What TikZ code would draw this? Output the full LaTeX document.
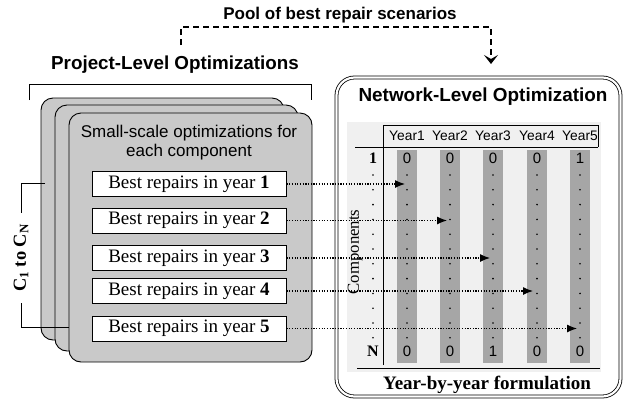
\documentclass[tikz,border=0pt]{standalone}
\usepackage{fontspec}
\setmainfont{Liberation Serif}
\setsansfont{Liberation Sans}
\usetikzlibrary{arrows.meta}

\begin{document}
\begin{tikzpicture}[x=1pt,y=-1pt,
    heading/.style={font=\sffamily\bfseries\fontsize{18.8}{21}\selectfont},
    stackbox/.style={draw,line width=0.9pt,fill=black!21,rounded corners=12pt},
    yearbox/.style={draw,line width=0.9pt,fill=white,minimum width=194pt,minimum height=25pt,inner sep=0pt,font=\fontsize{19}{21}\selectfont},
    dotarrow/.style={line width=1.2pt,dash pattern=on 1.2pt off 1.5pt,-{Latex[length=10pt,width=8pt]}},
    cell/.style={font=\sffamily\fontsize{15}{17}\selectfont},
  ]
    \useasboundingbox (0,0) rectangle (624,405);

    % pool of scenarios, from project level to network level
    \node[heading,font=\sffamily\bfseries\fontsize{17}{19}\selectfont] (pool) at (340,15) {Pool of best repair scenarios};
    \coordinate (p1) at (181,45);
    \coordinate (p2) at (491,64);
    \draw[line width=1.2pt,dash pattern=on 6pt off 4pt,-{Stealth[length=9pt,width=14pt,inset=4pt]}] (p1) -- ++(0,-18) -| (p2);

    % project level
    \node[heading] (plo) at (175,65) {Project-Level Optimizations};
    \draw[line width=1pt] (29,100) |- (311,84) -- (311,100);

    \draw[stackbox] (41,98) rectangle (284,340);
    \draw[stackbox] (55,105) rectangle (298,351);
    \draw[stackbox] (69,113) rectangle (312,362);

    \node[align=center,font=\sffamily\fontsize{17}{19}\selectfont] (small) at (189,143) {Small-scale optimizations for\\each component};

    % C_1 to C_N
    \draw[line width=0.9pt] (45,183) -| (21,213);
    \draw[line width=0.9pt] (21,303) |- (69,327);
    \node[rotate=90,font=\bfseries\fontsize{18.4}{20}\selectfont] (comp) at (21,258) {C\textsubscript{1} to C\textsubscript{N}};

    % network level
    \draw[line width=0.8pt,double,double distance=2.2pt,rounded corners=18pt] (336.5,77.5) rectangle (620.5,396.5);
    \node[heading,font=\sffamily\bfseries\fontsize{18.9}{21}\selectfont] (nlo) at (483,97) {Network-Level Optimization};

    \fill[black!6] (347,122) rectangle (601,372);
    \draw[line width=1pt] (383,365) -- (383,125) -- (598,125) -- (598,147);
    \draw[line width=1pt] (355,147) -- (598,147);
    \draw[line width=1pt] (357,368) -- (600,368);

    \foreach \x/\top/\bot [count=\n] in {407/0/0, 450/0/0, 493/0/1, 537/0/0, 580/1/0} {
      \node[cell,font=\sffamily\fontsize{13.8}{16}\selectfont] (h\n) at (\x,136) {Year\n};
      \fill[black!35] (\x-10,150) rectangle (\x+10,363);
      \node[cell] (top\n) at (\x,158) {\top};
      \node[cell] (bot\n) at (\x,351) {\bot};
    }
    \foreach \x in {373,407,450,493,537,580}
      \foreach \k in {0,...,11}
        \fill (\x,175+14.8*\k) circle (0.9pt);

    \node[font=\bfseries\fontsize{16}{18}\selectfont] (r1) at (373,158) {1};
    \node[font=\bfseries\fontsize{16}{18}\selectfont] (rN) at (373,351) {N};
    \node[rotate=90,font=\fontsize{16.8}{18}\selectfont] (cmps) at (355,252) {Components};

    \node[font=\bfseries\fontsize{19}{21}\selectfont] (yby) at (487,385) {Year-by-year formulation};

    % best repairs per year
    \foreach \i/\y/\tx in {1/184/405, 2/220.5/447, 3/258/490, 4/291/533, 5/328.5/577} {
      \node[yearbox] (b\i) at (189,\y) {Best repairs in year \textbf{\i}};
      \coordinate (t\i) at (\tx,\y);
      \draw[dotarrow] (b\i) -- (t\i);
    }
  \end{tikzpicture}
\end{document}
